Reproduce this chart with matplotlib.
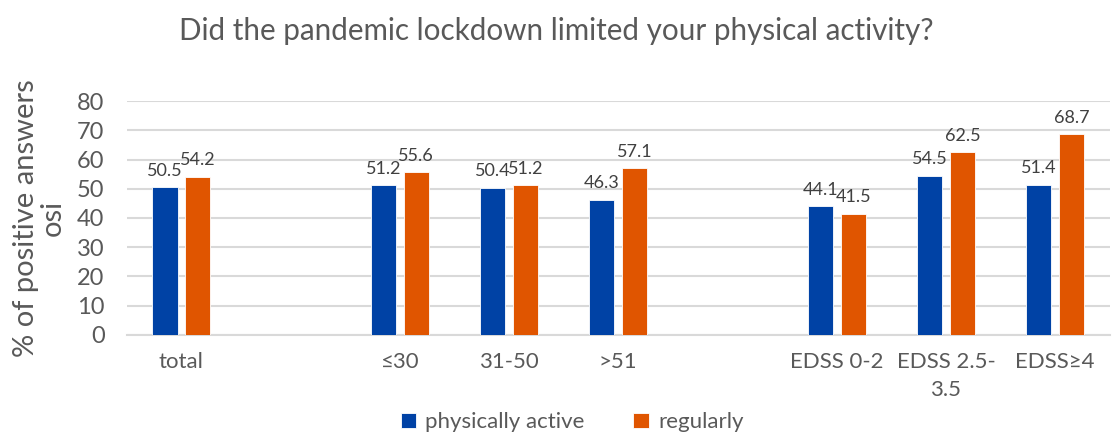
import matplotlib
matplotlib.use("Agg")
import matplotlib.pyplot as plt
import numpy as np

plt.rcParams['font.family'] = ['Lato', 'DejaVu Sans']

categories = ["total", "", "\u226430", "31-50", ">51", "", "EDSS 0-2", "EDSS 2.5-\n3.5", "EDSS\u22654"]
active = [50.5, None, 51.2, 50.4, 46.3, None, 44.1, 54.5, 51.4]
regularly = [54.2, None, 55.6, 51.2, 57.1, None, 41.5, 62.5, 68.7]
y_ticks = [0, 10, 20, 30, 40, 50, 60, 70, 80]

blue = "#0042A5"
orange = "#E05500"
txt = "#595959"

fig = plt.figure(figsize=(11.12, 4.36), dpi=100)
ax = fig.add_axes([0.114, 0.232, 0.884, 0.536])

x = np.arange(len(categories))
w = 0.23
off = 0.15

for vals, dx, col, lab in [(active, -off, blue, "physically active"),
                           (regularly, off, orange, "regularly")]:
    xs = [xi + dx for xi, v in zip(x, vals) if v is not None]
    vs = [v for v in vals if v is not None]
    bars = ax.bar(xs, vs, width=w, color=col, edgecolor="white", linewidth=0.6,
                  label=lab, zorder=3)
    ax.bar_label(bars, labels=[f"{v:.1f}" for v in vs], padding=6,
                 fontsize=13, color="#404040")

ax.set_ylim(0, 80)
ax.set_xlim(-0.5, len(categories) - 0.5)
ax.set_yticks(y_ticks)
ax.set_xticks(x)
ax.set_xticklabels(categories, fontsize=16, color=txt, linespacing=1.5)
ax.tick_params(axis="y", labelsize=17, colors=txt, length=0, pad=16)
ax.tick_params(axis="x", length=0, pad=12)
ax.grid(axis="y", color="#D9D9D9", linewidth=1.5, zorder=0)
for s in ["top", "right", "left"]:
    ax.spines[s].set_visible(False)
ax.spines["bottom"].set_color("#D9D9D9")
ax.spines["bottom"].set_linewidth(1.5)

ax.set_ylabel("% of positive answers\nosi", fontsize=21, color=txt, labelpad=8,
              linespacing=1.05)

fig.text(0.5, 0.93, "Did the pandemic lockdown limited your physical activity?",
         ha="center", va="center", fontsize=21.3, color=txt)

ax.legend(loc="center", bbox_to_anchor=(0.5 - 0.114 / 2 + 0.01, -0.375), ncol=2, frameon=False,
          fontsize=16, handlelength=0.7, handleheight=0.7, handletextpad=0.4,
          columnspacing=2.2, labelcolor=txt, borderaxespad=0, borderpad=0.1)

fig.savefig("out.png", dpi=100)
